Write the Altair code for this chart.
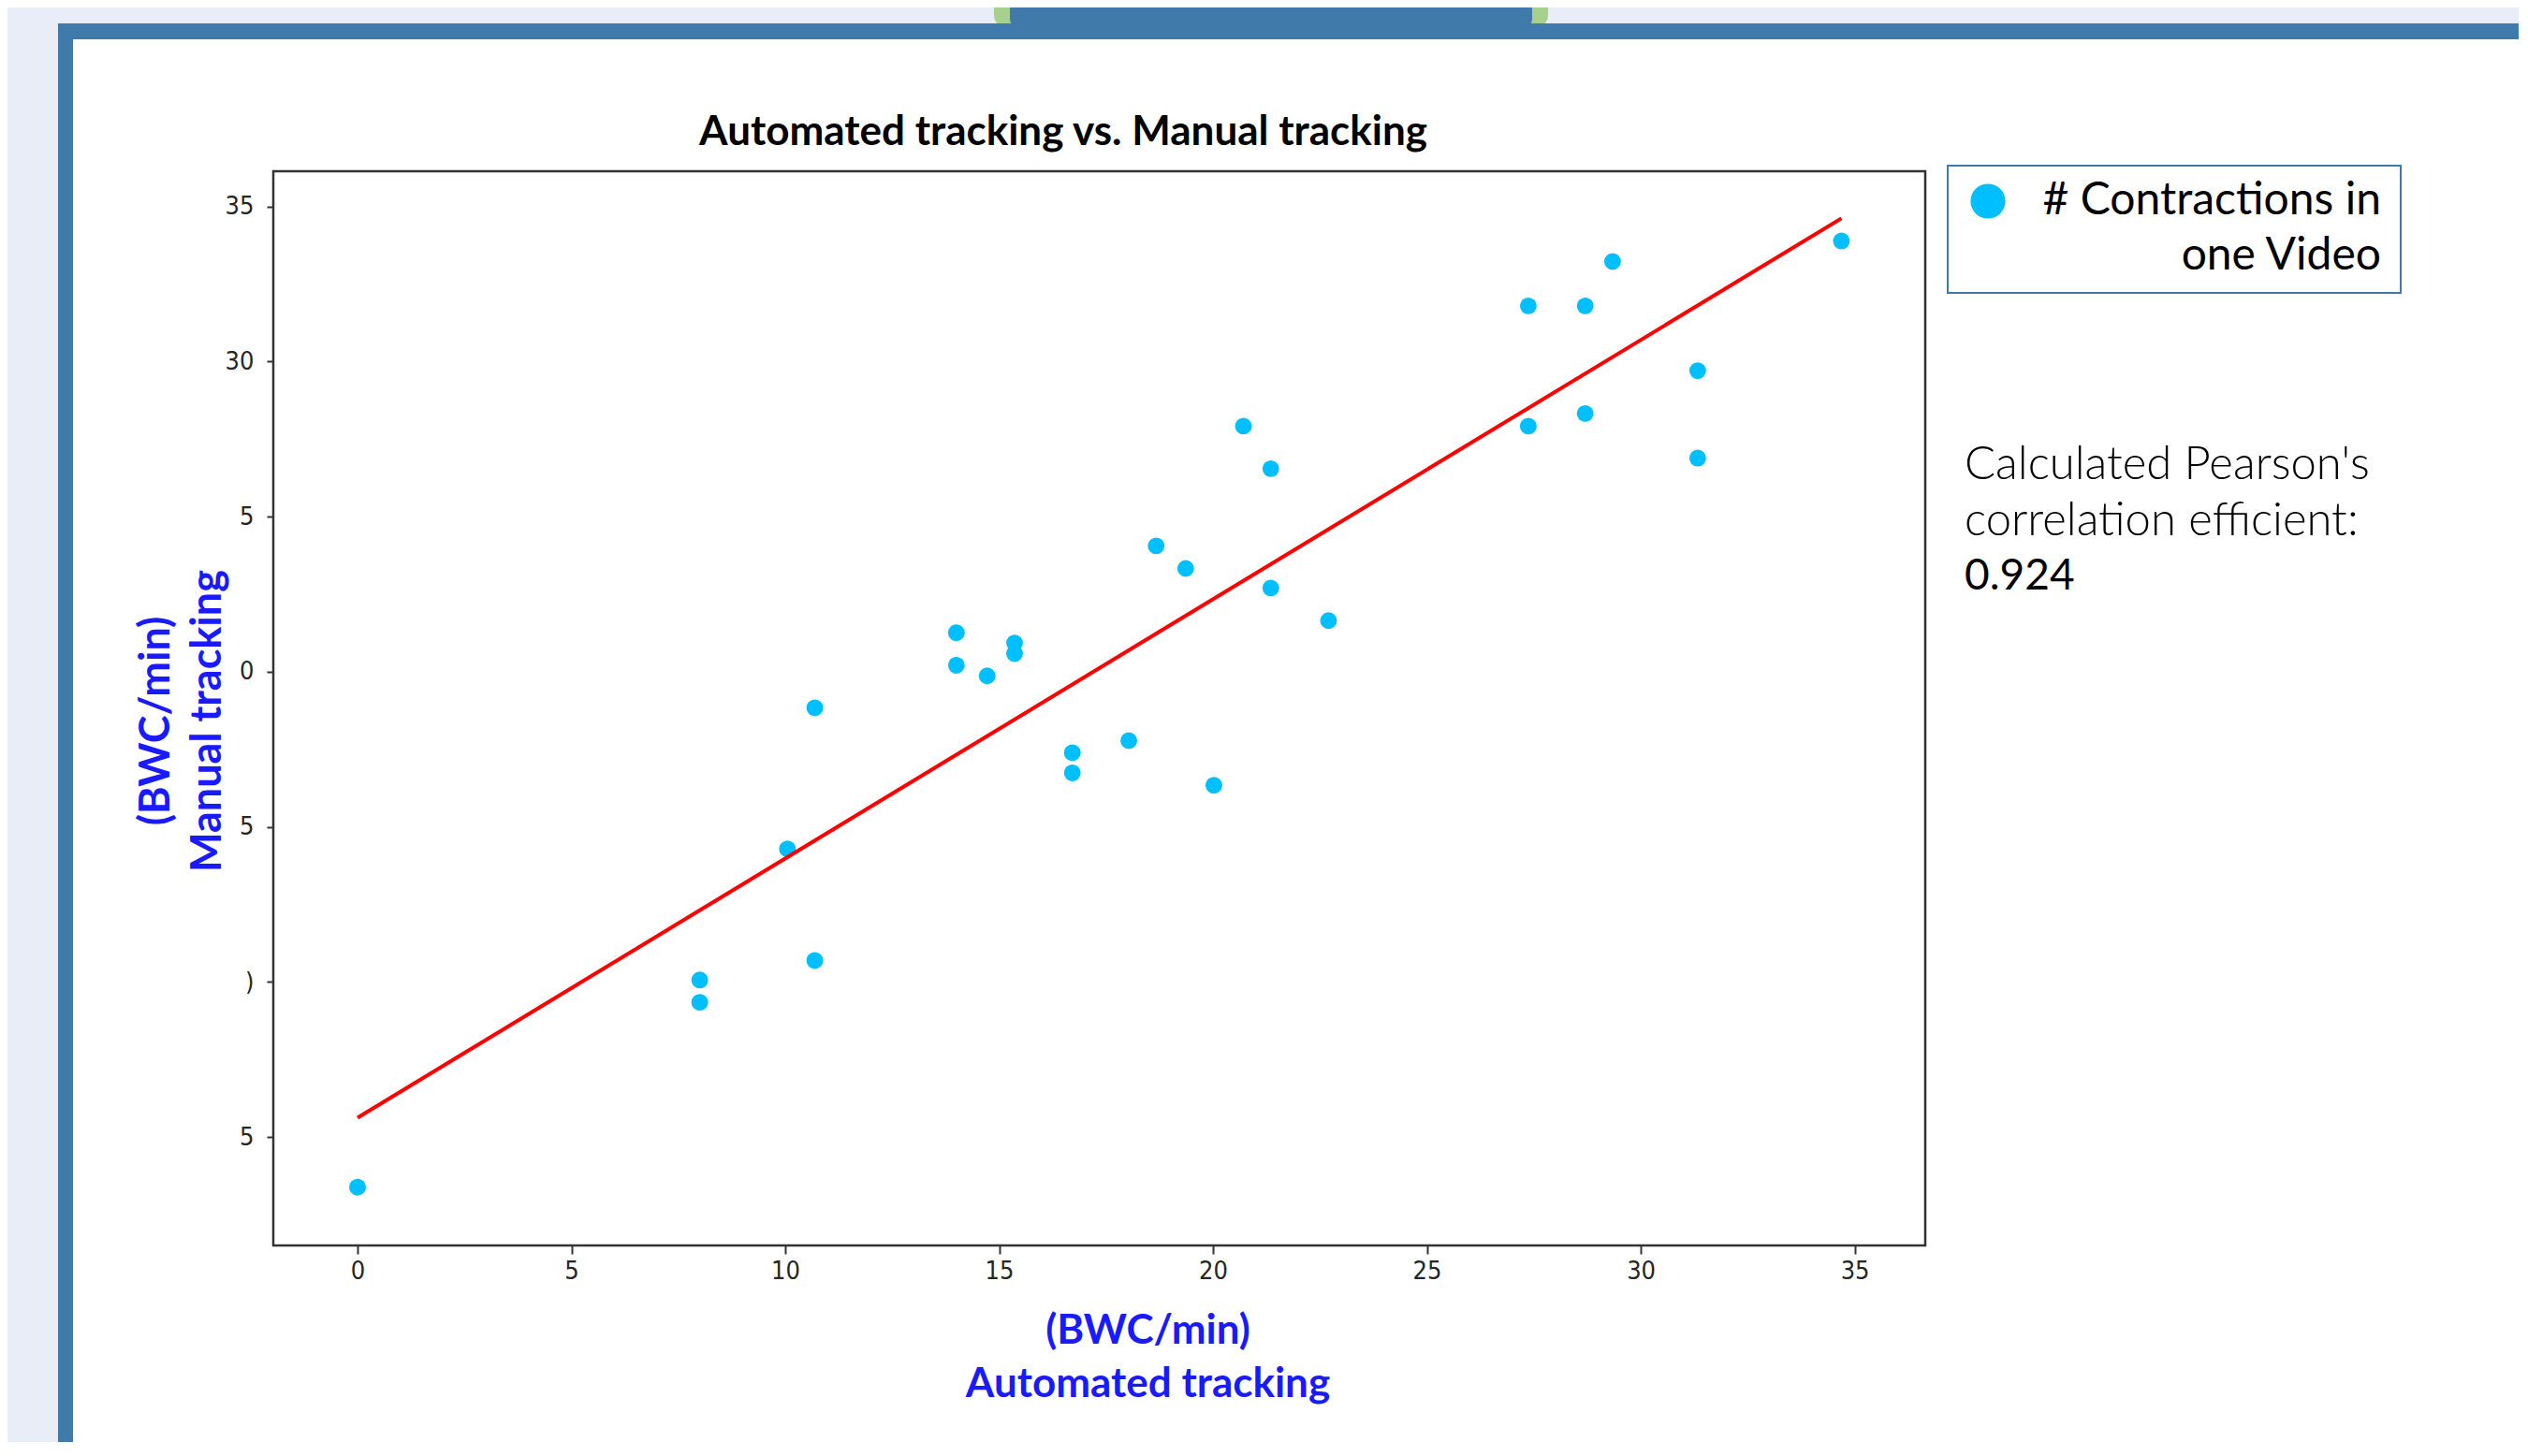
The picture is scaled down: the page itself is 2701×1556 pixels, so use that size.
import altair as alt
import pandas as pd

# ---- data ----
automated = [0.0, 8.0, 8.0, 10.69, 10.05, 10.69, 14.0, 14.0, 14.72, 15.36, 15.36,
             16.71, 16.71, 18.03, 18.67, 19.36, 20.02, 20.71, 21.35, 21.35, 22.70,
             27.37, 27.37, 28.70, 28.70, 29.34, 31.33, 31.33, 34.69]
manual = [3.38, 10.06, 9.34, 10.69, 14.29, 18.84, 21.26, 20.21, 19.87, 20.93, 20.59,
          17.39, 16.74, 17.78, 24.06, 23.33, 16.34, 27.92, 26.55, 22.70, 21.65,
          31.80, 27.92, 31.80, 28.33, 33.23, 29.71, 26.89, 33.89]
fit_x = [0.0, 34.69]
fit_y = [5.62, 34.62]
x_ticks = [0, 5, 10, 15, 20, 25, 30, 35]
y_ticks = [5, 10, 15, 20, 25, 30, 35]
series_name = "# Contractions in one Video"
pearson = "0.924"

pts = pd.DataFrame({"automated": automated, "manual": manual})
fit = pd.DataFrame({"automated": fit_x, "manual": fit_y})

W, H = 1765, 1148
BLUE = "#3F7AAB"
LAV = "#E8EDF7"
TXT_BLUE = "#1A1AFF"
DOT = "#00BFFF"

xs = alt.Scale(domain=[-1.97, 36.65], nice=False, zero=False)
ys = alt.Scale(domain=[1.5, 36.14], nice=False, zero=False)

tick_font = "DejaVu Sans Condensed, DejaVu Sans"

x_axis = alt.Axis(values=x_ticks, domain=False, grid=False, tickSize=9, tickWidth=2,
                  tickColor="#333333", labelFont=tick_font, labelFontSize=27,
                  labelColor="#262626", labelPadding=5, labelFlush=False,
                  title=["(BWC/min)", "Automated tracking"], titleFont="Lato",
                  titleFontSize=44, titleFontWeight="bold", titleColor=TXT_BLUE,
                  titleX=934, titleY=104, titleAlign="center", titleBaseline="alphabetic",
                  titleLineHeight=57)
y_axis = alt.Axis(values=y_ticks, domain=False, grid=False, tickSize=7, tickWidth=2,
                  tickColor="#333333", labelFont=tick_font, labelFontSize=27,
                  labelColor="#262626", labelPadding=14, labelFlush=False,
                  labelExpr="datum.value == 35 ? '35' : datum.value == 30 ? '30' : datum.value == 20 ? '0' : datum.value == 10 ? ')' : '5'",
                  title=["(BWC/min)", "Manual tracking"], titleFont="Lato",
                  titleFontSize=45, titleFontWeight="bold", titleColor=TXT_BLUE,
                  titleAngle=270, titleX=-112, titleY=587, titleAlign="center",
                  titleBaseline="alphabetic", titleLineHeight=55)

one = alt.Data(values=[{"d": 1}])


def deco_rect(x, x2, y, y2, color, radius=0, stroke=None, sw=0):
    kw = dict(color=color, cornerRadius=radius)
    if stroke:
        kw.update(stroke=stroke, strokeWidth=sw)
    return alt.Chart(one).mark_rect(**kw).encode(
        x=alt.value(x), x2=alt.value(x2), y=alt.value(y), y2=alt.value(y2))


def deco_text(txt, x, y, size, weight="normal", align="left", color="black", font="Lato"):
    return alt.Chart(one).mark_text(text=txt, align=align, baseline="alphabetic",
                                    font=font, fontSize=size, fontWeight=weight,
                                    color=color).encode(x=alt.value(x), y=alt.value(y))


# slide decorations (page frame)
bg_left = deco_rect(-300, -230, -200, 1400, LAV)
bg_top = deco_rect(-300, 2500, -200, -158, LAV)
tab_green = deco_rect(770, 1362, -220, -153, "#A8D08D", radius=14)
tab_blue = deco_rect(787, 1345, -220, -153, BLUE, radius=10)
border_top = deco_rect(-230, 2500, -158, -141, BLUE)
border_left = deco_rect(-230, -214, -158, 1400, BLUE)

points = alt.Chart(pts).mark_circle(size=320, opacity=1, color=DOT).encode(
    x=alt.X("automated:Q", scale=xs, axis=x_axis),
    y=alt.Y("manual:Q", scale=ys, axis=y_axis),
)
line = alt.Chart(fit).mark_line(color="#FF0000", strokeWidth=4).encode(
    x=alt.X("automated:Q", scale=xs),
    y=alt.Y("manual:Q", scale=ys),
)

title = deco_text("Automated tracking vs. Manual tracking", 844, -28, 44,
                  weight="bold", align="center")

# legend box
leg_box = deco_rect(1789, 2273, -6, 130, "white", stroke=BLUE, sw=2)
leg_dot = alt.Chart(one).mark_circle(size=1385, opacity=1, color=DOT).encode(
    x=alt.value(1832), y=alt.value(32))
leg_t1 = deco_text("# Contractions in", 2252, 46, 48, align="right")
leg_t2 = deco_text("one Video", 2252, 105, 48, align="right")

p1 = deco_text("Calculated Pearson's", 1807, 329, 49, weight=300)
p2 = deco_text("correlation efficient:", 1807, 389, 49, weight=300)
p3 = deco_text(pearson, 1807, 447, 46, weight="normal")

chart = alt.layer(
    bg_left, bg_top, tab_green, tab_blue, border_top, border_left,
    points, line, title, leg_box, leg_dot, leg_t1, leg_t2, p1, p2, p3,
).properties(
    width=W, height=H,
    autosize=alt.AutoSizeParams(type="none"),
    padding={"left": 284, "top": 175, "right": 634, "bottom": 210},
    background="white",
).configure_view(
    stroke="#333333", strokeWidth=2.5
)

chart.save("out.html", embed_options={"renderer": "svg", "actions": False})
